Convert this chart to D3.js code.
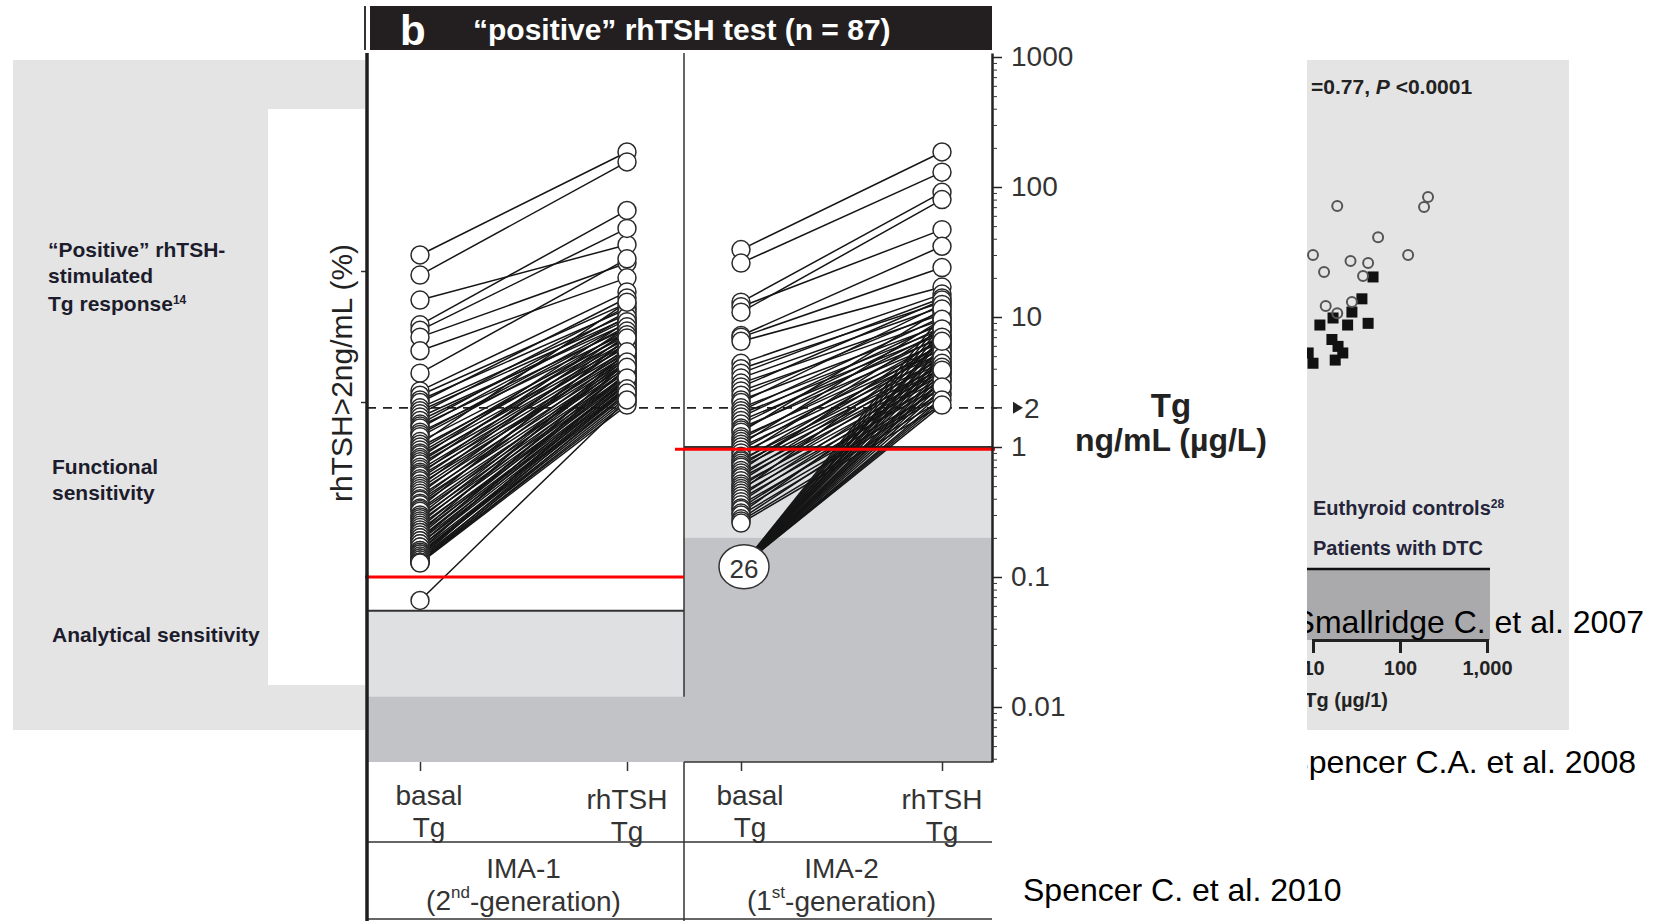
<!DOCTYPE html>
<html>
<head>
<meta charset="utf-8">
<script src="https://cdn.jsdelivr.net/npm/d3@7"></script>
<style>
  body { margin: 0; background: #fff; }
  svg { display: block; font-family: "Liberation Sans", Arial, Helvetica, sans-serif; }
</style>
</head>
<body>
<div id="chart"></div>
<script>
// ---- data ----
const groups = ["IMA-1", "IMA-2"];
const generations = [["2", "nd"], ["1", "st"]];
const timepoints = ["basal", "rhTSH"];

// IMA-1 (2nd generation): basal Tg and rhTSH-stimulated Tg, ng/mL, one entry per patient
const basalIMA1 = [
  30, 21, 13.5, 8.7, 7.9, 7, 5.5, 3.7,
  2.7, 2.5, 2.3, 2.2, 2.0, 1.9, 1.8, 1.7, 1.6, 1.5,
  1.45, 1.4, 1.3, 1.25, 1.2, 1.1, 1.05, 1.0, 0.95, 0.9,
  0.87, 0.83, 0.8, 0.77, 0.74, 0.7, 0.67, 0.64, 0.62, 0.6,
  0.57, 0.55, 0.52, 0.5, 0.48, 0.46, 0.44, 0.42, 0.4, 0.39,
  0.37, 0.36, 0.34, 0.33, 0.32, 0.3, 0.29, 0.28, 0.27, 0.26,
  0.25, 0.24, 0.23, 0.22, 0.22, 0.21, 0.2, 0.2, 0.19, 0.19,
  0.18, 0.18, 0.17, 0.17, 0.16, 0.16, 0.155, 0.15, 0.15, 0.145,
  0.14, 0.14, 0.135, 0.135, 0.13, 0.13, 0.13, 0.128,
  0.066
];
const rhtshIMA1 = [
  186, 156, 36, 66, 48, 26, 20, 28,
  15.6, 12.8, 11.5, 14, 10.5, 9.8, 12, 8.9, 9.5, 11,
  8.2, 10, 7.6, 9, 8.5, 7.2, 13, 6.8, 8, 7.5,
  6.5, 9.2, 6.2, 7, 5.9, 8.4, 6, 5.6, 7.8, 5.3,
  6.6, 5.1, 4.9, 7.3, 5.5, 4.7, 6.3, 4.5, 5.8, 4.3,
  5.2, 4.1, 6.9, 4.4, 3.9, 5, 3.8, 4.8, 3.6, 4.6,
  3.5, 4.2, 3.4, 5.4, 3.3, 4, 3.2, 3.7, 3.1, 4.5,
  3, 3.6, 2.9, 3.3, 2.8, 4.1, 2.7, 3.1, 2.6, 2.9,
  2.5, 3.4, 2.4, 2.8, 2.3, 2.6, 2.2, 2.1,
  2.3
];

// IMA-2 (1st generation): detectable basal Tg
const basalIMA2 = [
  33, 26, 13, 12, 10.9, 7.2, 7, 6.5,
  4.4, 4.0, 3.7, 3.4, 3.1, 2.9, 2.7, 2.5, 2.3, 2.2,
  2.0, 1.9, 1.8, 1.7, 1.6, 1.5, 1.4, 1.35, 1.3, 1.2,
  1.15, 1.1, 1.05, 1.0, 0.95, 0.9, 0.85, 0.8, 0.78, 0.75,
  0.72, 0.7, 0.66, 0.63, 0.6, 0.58, 0.55, 0.52, 0.5, 0.48,
  0.46, 0.44, 0.42, 0.4, 0.38, 0.36, 0.34, 0.33, 0.31, 0.3,
  0.28, 0.27, 0.26
];
const rhtshIMA2 = [
  186, 130, 91, 47, 80, 35, 24, 17,
  15, 13, 14, 12, 10.5, 13.5, 9.5, 11, 8.7, 12.5,
  8, 10, 7.4, 9, 6.9, 8.4, 6.4, 7.8, 11.5, 6,
  7.2, 5.6, 9.6, 5.3, 6.7, 5, 8.1, 4.7, 6.2, 4.5,
  5.8, 4.2, 7, 4, 5.4, 3.8, 4.9, 3.6, 4.4, 3.4,
  6.5, 3.2, 4.1, 3, 3.7, 2.8, 3.3, 2.6, 3.9, 2.5,
  2.9, 2.3, 2.1
];
// IMA-2: patients with undetectable basal Tg (plotted as one bubble)
const undetectableTg = 0.12;
const undetectedRhIMA2 = [
  2.1, 2.3, 2.6, 2.8, 3.2, 3.5, 3.9, 4.3, 4.6, 5.1,
  5.5, 6.0, 6.6, 7.1, 7.9, 8.6, 9.4, 10.3, 2.4, 3.0,
  3.7, 4.9, 5.8, 6.9, 2.2, 3.3
];

const cutoffTg = 2;                 // dashed line
const lightGreyTop = [0.055, 1.0];  // boundary line + light grey, per assay
const darkGreyTop = [0.012, 0.2];
const redLineTg = [0.1, 0.96];
const majorTicks = [0.01, 0.1, 1, 10, 100, 1000];
const leftPctTicks = [50, 100];

// Smallridge 2007 inset (correlation scatter, Tg in ug/L)
const euthyroidX = [19, 210, 189, 56, 10, 124, 27, 43, 13.4, 37.6, 14, 28, 19];
const euthyroidY = [1030, 1300, 1000, 450, 280, 280, 240, 227, 179, 161, 73, 81, 60];
const dtcX = [49, 36.5, 28, 17, 12, 25, 43, 16.5, 19.4, 22, 18, 10, 8.8];
const dtcY = [157, 88, 62, 53, 44, 44, 46, 30, 25, 21, 17.4, 16, 21];
const insetTicks = [10, 100, 1000];

// ---- layout ----
const W = 1660, H = 921;
const svg = d3.select("#chart").append("svg").attr("width", W).attr("height", H);

// left grey slide panel
const leftPanel = svg.append("g");
leftPanel.append("rect").attr("x", 13).attr("y", 60).attr("width", 360).attr("height", 670).attr("fill", "#e4e4e4");
leftPanel.append("rect").attr("x", 268).attr("y", 109).attr("width", 105).attr("height", 576).attr("fill", "#fff");
const leftTxt = leftPanel.append("g")
  .attr("font-size", 21).attr("font-weight", "bold").attr("fill", "#1c1c2c");
[["\u201cPositive\u201d rhTSH-", 48, 250], ["stimulated", 48, 276]].forEach(d =>
  leftTxt.append("text").attr("x", d[1]).attr("y", d[2]).attr("dy", "0.35em").text(d[0]));
let t = leftTxt.append("text").attr("x", 48).attr("y", 304).attr("dy", "0.35em").text("Tg response");
t.append("tspan").attr("font-size", 12).attr("dy", "-0.6em").text("14");
[["Functional", 52, 467], ["sensitivity", 52, 493], ["Analytical sensitivity", 52, 635]].forEach(d =>
  leftTxt.append("text").attr("x", d[1]).attr("y", d[2]).attr("dy", "0.35em").text(d[0]));

// right grey slide panel with scatter inset
const rightPanel = svg.append("g");
rightPanel.append("rect").attr("x", 1300).attr("y", 60).attr("width", 269).attr("height", 670).attr("fill", "#e4e4e4");
const ix = d3.scaleLog().domain([10, 1000]).range([1313, 1487]);
const iy = d3.scaleLog().domain([1, 1000]).range([468, 207]);
rightPanel.append("text").attr("x", 1311).attr("y", 87).attr("dy", "0.35em")
  .attr("font-size", 21).attr("font-weight", "bold").attr("fill", "#222")
  .call(s => { s.append("tspan").text("=0.77, "); s.append("tspan").attr("font-style", "italic").text("P");
               s.append("tspan").text(" <0.0001"); });
rightPanel.selectAll("rect.dtc").data(d3.zip(dtcX, dtcY)).join("rect").attr("class", "dtc")
  .attr("x", d => ix(d[0]) - 5.5).attr("y", d => iy(d[1]) - 5.5).attr("width", 11).attr("height", 11)
  .attr("fill", "#111");
rightPanel.selectAll("circle.eu").data(d3.zip(euthyroidX, euthyroidY)).join("circle").attr("class", "eu")
  .attr("cx", d => ix(d[0])).attr("cy", d => iy(d[1])).attr("r", 5)
  .attr("fill", "none").attr("stroke", "#555").attr("stroke-width", 2);
const legTxt = rightPanel.append("g").attr("font-size", 20).attr("font-weight", "bold").attr("fill", "#24243a");
t = legTxt.append("text").attr("x", 1313).attr("y", 508).attr("dy", "0.35em").text("Euthyroid controls");
t.append("tspan").attr("font-size", 12).attr("dy", "-0.6em").text("28");
legTxt.append("text").attr("x", 1313).attr("y", 548).attr("dy", "0.35em").text("Patients with DTC");
rightPanel.append("rect").attr("x", 1300).attr("y", 569).attr("width", 190).attr("height", 71).attr("fill", "#aaaaad");
rightPanel.append("line").attr("x1", 1300).attr("x2", 1490).attr("y1", 569).attr("y2", 569).attr("stroke", "#111").attr("stroke-width", 2.5);
rightPanel.append("g").attr("transform", "translate(0,640)")
  .call(d3.axisBottom(ix).tickValues(insetTicks).tickSize(13).tickPadding(8).tickFormat(d3.format(",")))
  .call(g => g.select(".domain").attr("stroke-width", 3).attr("stroke", "#222"))
  .call(g => g.selectAll(".tick line").attr("stroke-width", 3).attr("stroke", "#222"))
  .call(g => g.selectAll("text").attr("font-size", 20).attr("font-weight", "bold").attr("fill", "#222")
    .attr("font-family", "Liberation Sans, Arial, sans-serif"));
rightPanel.append("text").attr("x", 1388).attr("y", 700).attr("dy", "0.35em").attr("text-anchor", "end")
  .attr("font-size", 20).attr("font-weight", "bold").attr("fill", "#222").text("Tg (\u00b5g/1)");
rightPanel.append("text").attr("x", 1644).attr("y", 622).attr("dy", "0.35em").attr("text-anchor", "end")
  .attr("font-size", 32).attr("fill", "#000").text("Smallridge C. et al. 2007");
svg.append("text").attr("x", 1636).attr("y", 762).attr("dy", "0.35em").attr("text-anchor", "end")
  .attr("font-size", 32).attr("fill", "#000").text("Spencer C.A. et al. 2008");

// white backdrop of the main figure (covers slide panels)
svg.append("rect").attr("x", 365).attr("y", 0).attr("width", 1307 - 365).attr("height", H).attr("fill", "#fff");

// ---- main chart ----
const chart = svg.append("g");
const plotTop = 53, plotBottom = 762, catLine = 842, figBottom = 919;
const xLeft = 367, xMid = 684, xRight = 992;
const y = d3.scaleLog().domain([0.01, 1000]).range([707, 57]);
const panelX = [[xLeft, xMid], [xMid, xRight]];
const xs = [
  d3.scalePoint().domain(timepoints).range([420, 627]),
  d3.scalePoint().domain(timepoints).range([741, 942])
];

// shaded detection areas
panelX.forEach((px, i) => {
  chart.append("rect").attr("x", px[0]).attr("width", px[1] - px[0])
    .attr("y", y(lightGreyTop[i])).attr("height", plotBottom - y(lightGreyTop[i])).attr("fill", "#dfe0e2");
  chart.append("rect").attr("x", px[0]).attr("width", px[1] - px[0])
    .attr("y", y(darkGreyTop[i])).attr("height", plotBottom - y(darkGreyTop[i])).attr("fill", "#c2c3c7");
  chart.append("line").attr("x1", px[0]).attr("x2", px[1])
    .attr("y1", y(lightGreyTop[i])).attr("y2", y(lightGreyTop[i])).attr("stroke", "#333").attr("stroke-width", 2);
});

// header
chart.append("rect").attr("x", 370).attr("y", 6).attr("width", xRight - 370).attr("height", 44).attr("fill", "#231f20");
chart.append("line").attr("x1", 365).attr("x2", 365).attr("y1", 6).attr("y2", 50).attr("stroke", "#333").attr("stroke-width", 2);
chart.append("text").attr("x", 400).attr("y", 45).attr("font-size", 42).attr("font-weight", "bold").attr("fill", "#fff").text("b");
chart.append("text").attr("x", 473).attr("y", 40).attr("font-size", 30).attr("font-weight", "bold").attr("fill", "#fff")
  .text("\u201cpositive\u201d rhTSH test (n = 87)");

// frame lines
chart.append("line").attr("x1", xMid).attr("x2", xMid).attr("y1", plotTop).attr("y2", y(darkGreyTop[0])).attr("stroke", "#333").attr("stroke-width", 1.5);
chart.append("line").attr("x1", xMid).attr("x2", xMid).attr("y1", plotBottom).attr("y2", H).attr("stroke", "#333").attr("stroke-width", 1.5);
chart.append("line").attr("x1", xMid).attr("x2", xRight).attr("y1", plotBottom).attr("y2", plotBottom).attr("stroke", "#333").attr("stroke-width", 1.5);
chart.append("line").attr("x1", xLeft).attr("x2", xRight).attr("y1", catLine).attr("y2", catLine).attr("stroke", "#333").attr("stroke-width", 1.5);
chart.append("line").attr("x1", xLeft).attr("x2", xRight).attr("y1", figBottom).attr("y2", figBottom).attr("stroke", "#333").attr("stroke-width", 1.5);

// dashed 2 ng/mL cut-off
chart.append("line").attr("x1", xLeft).attr("x2", xRight).attr("y1", y(cutoffTg)).attr("y2", y(cutoffTg))
  .attr("stroke", "#222").attr("stroke-width", 1.6).attr("stroke-dasharray", "9,7");

// patient lines
const pairs = [d3.zip(basalIMA1, rhtshIMA1), d3.zip(basalIMA2, rhtshIMA2)];
const undetPairs = undetectedRhIMA2.map(r => [undetectableTg, r]);
[pairs[0], pairs[1].concat(undetPairs)].forEach((data, i) => {
  chart.append("g").selectAll("line").data(data).join("line")
    .attr("x1", xs[i]("basal")).attr("x2", xs[i]("rhTSH"))
    .attr("y1", d => y(d[0])).attr("y2", d => y(d[1]))
    .attr("stroke", "#151515").attr("stroke-width", 1.5);
});
pairs.forEach((data, i) => {
  const g = chart.append("g").attr("fill", "#fff").attr("stroke", "#2a2a2a").attr("stroke-width", 1.5);
  g.selectAll("circle.b").data(data).join("circle").attr("class", "b")
    .attr("cx", xs[i]("basal")).attr("cy", d => y(d[0])).attr("r", 9);
  g.selectAll("circle.r").data(data).join("circle").attr("class", "r")
    .attr("cx", xs[i]("rhTSH")).attr("cy", d => y(d[1])).attr("r", 9);
});
// bubble for undetectable basal Tg
chart.append("ellipse").attr("cx", xs[1]("basal") + 3).attr("cy", y(undetectableTg)).attr("rx", 25).attr("ry", 22)
  .attr("fill", "#fff").attr("stroke", "#333").attr("stroke-width", 1.5);
chart.append("text").attr("x", xs[1]("basal") + 3).attr("y", y(undetectableTg)).attr("dy", "0.45em")
  .attr("text-anchor", "middle").attr("font-size", 26).attr("fill", "#333").text(undetectedRhIMA2.length);

// red overlay lines
chart.append("line").attr("x1", 365).attr("x2", xMid).attr("y1", y(redLineTg[0])).attr("y2", y(redLineTg[0]))
  .attr("stroke", "#ff0000").attr("stroke-width", 3);
chart.append("line").attr("x1", 675).attr("x2", 995).attr("y1", y(redLineTg[1])).attr("y2", y(redLineTg[1]))
  .attr("stroke", "#ff0000").attr("stroke-width", 3);

// right log axis
const yFull = y.copy().domain([y.invert(plotBottom), y.invert(plotTop)]).range([plotBottom, plotTop]);
chart.append("g").attr("transform", `translate(${xRight},0)`)
  .call(d3.axisRight(yFull).tickValues(yFull.ticks().filter(v => !majorTicks.includes(v))).tickSize(5).tickFormat("").tickSizeOuter(0))
  .call(g => g.select(".domain").attr("stroke", "#222").attr("stroke-width", 2.5))
  .call(g => g.selectAll(".tick line").attr("stroke", "#333"));
chart.append("g").attr("transform", `translate(${xRight},0)`)
  .call(d3.axisRight(yFull).tickValues(majorTicks).tickSize(10).tickPadding(9).tickFormat(d3.format("~g")).tickSizeOuter(0))
  .call(g => g.select(".domain").remove())
  .call(g => g.selectAll(".tick line").attr("stroke", "#222").attr("stroke-width", 1.5))
  .call(g => g.selectAll("text").attr("font-size", 28).attr("fill", "#333")
    .attr("font-family", "Liberation Sans, Arial, sans-serif"));
// cut-off marker on the axis
chart.append("line").attr("x1", xRight).attr("x2", xRight + 10).attr("y1", y(cutoffTg)).attr("y2", y(cutoffTg))
  .attr("stroke", "#222").attr("stroke-width", 1.5);
chart.append("path").attr("d", `M${xRight + 21},${y(cutoffTg) - 6}L${xRight + 31},${y(cutoffTg)}L${xRight + 21},${y(cutoffTg) + 6}Z`).attr("fill", "#222");
chart.append("text").attr("x", xRight + 32).attr("y", y(cutoffTg)).attr("dy", "0.35em")
  .attr("font-size", 28).attr("fill", "#333").text(cutoffTg);
chart.append("text").attr("x", 1171).attr("y", 405).attr("dy", "0.35em").attr("text-anchor", "middle")
  .attr("font-size", 33).attr("font-weight", "bold").attr("fill", "#222").text("Tg");
chart.append("text").attr("x", 1171).attr("y", 440).attr("dy", "0.35em").attr("text-anchor", "middle")
  .attr("font-size", 32).attr("font-weight", "bold").attr("fill", "#222").text("ng/mL (\u00b5g/L)");

// left axis (percentage)
const yPct = d3.scaleLinear().domain([0, 100]).range([533, 271]);
chart.append("g").attr("transform", `translate(${xLeft},0)`)
  .call(d3.axisLeft(yPct).tickValues(leftPctTicks).tickSize(6).tickFormat(""))
  .call(g => g.select(".domain").remove())
  .call(g => g.selectAll(".tick line").attr("stroke", "#333").attr("stroke-width", 1.5));
chart.append("line").attr("x1", xLeft).attr("x2", xLeft).attr("y1", plotTop).attr("y2", H)
  .attr("stroke", "#1e1e1e").attr("stroke-width", 3.5);
chart.append("text").attr("transform", "translate(341,373) rotate(-90)").attr("text-anchor", "middle")
  .attr("dy", "0.35em").attr("font-size", 30).attr("fill", "#222").text("rhTSH>2ng/mL (%)");

// bottom ticks and labels
xs.forEach((x, i) => {
  chart.append("g").attr("transform", `translate(0,${plotBottom})`)
    .call(d3.axisBottom(x).tickSize(9).tickFormat(""))
    .call(g => g.select(".domain").remove())
    .call(g => g.selectAll(".tick line").attr("stroke", "#333").attr("stroke-width", 1.5));
  const lab = chart.append("g").attr("font-size", 28).attr("fill", "#333").attr("text-anchor", "middle");
  lab.append("text").attr("x", x("basal") + 9).attr("y", 795).attr("dy", "0.35em").text("basal");
  lab.append("text").attr("x", x("basal") + 9).attr("y", 827).attr("dy", "0.35em").text("Tg");
  lab.append("text").attr("x", x("rhTSH")).attr("y", 799).attr("dy", "0.35em").text("rhTSH");
  lab.append("text").attr("x", x("rhTSH")).attr("y", 831).attr("dy", "0.35em").text("Tg");
  const cx = (x.range()[0] + x.range()[1]) / 2;
  lab.append("text").attr("x", cx).attr("y", 868).attr("dy", "0.35em").text(groups[i]);
  const g2 = lab.append("text").attr("x", cx).attr("y", 900).attr("dy", "0.35em");
  g2.append("tspan").text("(" + generations[i][0]);
  g2.append("tspan").attr("font-size", 17).attr("dy", "-0.7em").text(generations[i][1]);
  g2.append("tspan").attr("dy", "0.45em").text("-generation)");
});

svg.append("text").attr("x", 1023).attr("y", 890).attr("dy", "0.35em")
  .attr("font-size", 32).attr("fill", "#000").text("Spencer C. et al. 2010");
</script>
</body>
</html>
